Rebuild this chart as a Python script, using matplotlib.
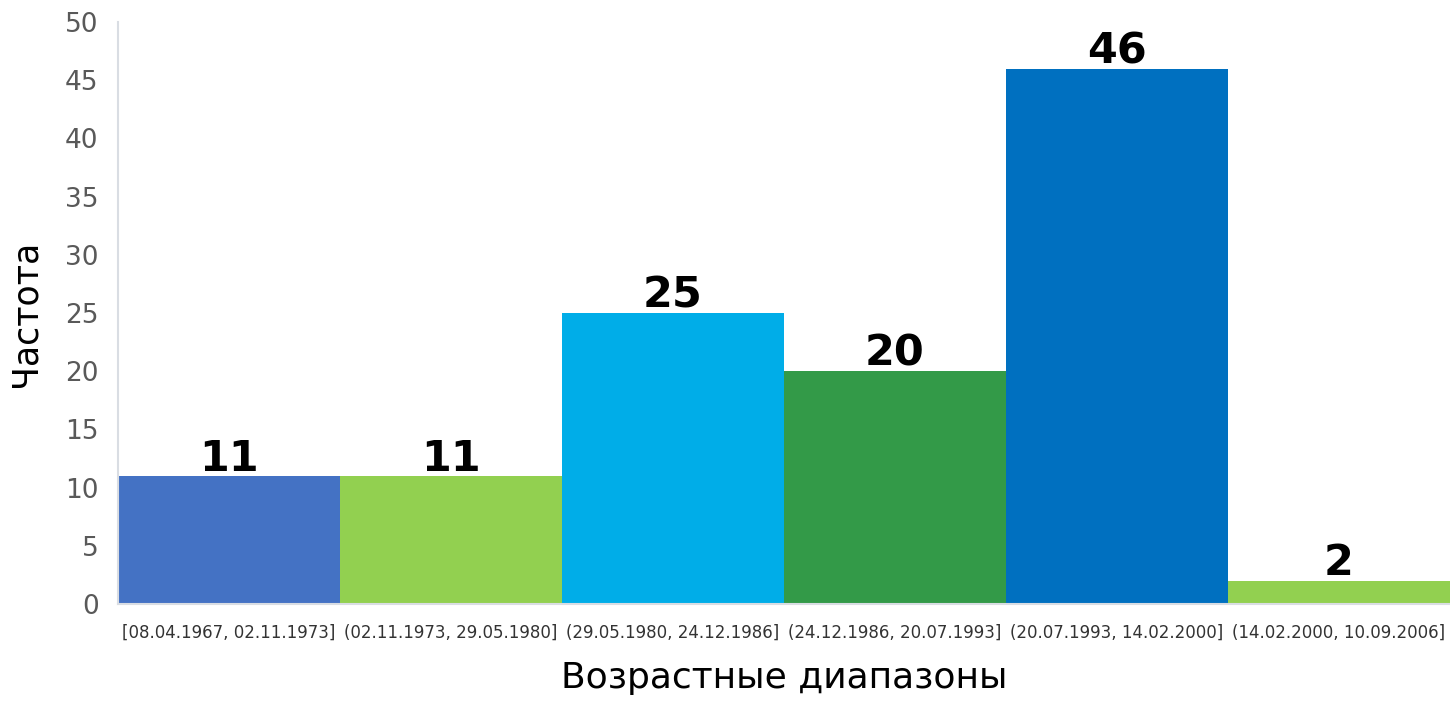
import matplotlib
matplotlib.use("Agg")
import matplotlib.pyplot as plt
import numpy as np

ranges = ["[08.04.1967, 02.11.1973]", "(02.11.1973, 29.05.1980]",
          "(29.05.1980, 24.12.1986]", "(24.12.1986, 20.07.1993]",
          "(20.07.1993, 14.02.2000]", "(14.02.2000, 10.09.2006]"]
counts = [11, 11, 25, 20, 46, 2]
colors = ["#4472C4", "#92D050", "#00ADE8", "#339A48", "#0070C0", "#92D050"]

fig = plt.figure(figsize=(14.5, 7.03), dpi=100)
ax = fig.add_axes([118 / 1450, 1 - 604 / 703, 1 - 118 / 1450, (604 - 22) / 703])

x = np.arange(len(counts))
bars = ax.bar(x, counts, width=1.0, color=colors, edgecolor="none")

for xi, c in zip(x, counts):
    ax.text(xi, c + 0.45, str(c), ha="center", va="baseline",
            fontsize=31, fontweight="bold", color="black")

ax.set_xlim(-0.5, len(counts) - 0.5)
ax.set_ylim(0, 50)
ax.set_yticks(np.arange(0, 51, 5))
ax.set_xticks(x)
ax.set_xticklabels(ranges, fontsize=12, color="#333333")
ax.tick_params(axis="y", length=0, pad=14, labelsize=19, labelcolor="#595959")
ax.tick_params(axis="x", length=0, pad=14)

for s in ["top", "right"]:
    ax.spines[s].set_visible(False)
ax.spines["left"].set_color("#D9DDE3")
ax.spines["bottom"].set_color("#D9DDE3")
ax.spines["left"].set_linewidth(1.5)
ax.spines["bottom"].set_linewidth(1.5)

ax.set_ylabel("Частота", fontsize=25, color="black", labelpad=16)
ax.set_xlabel("Возрастные диапазоны", fontsize=26, color="black", labelpad=14)

fig.savefig("out.png", dpi=100)
